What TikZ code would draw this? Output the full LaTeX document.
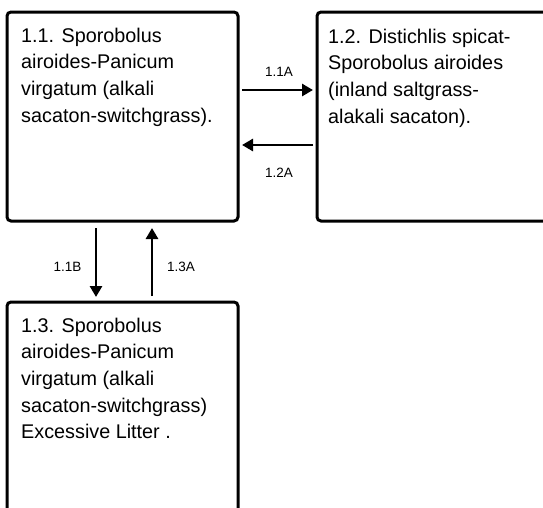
\documentclass[tikz,border=0pt]{standalone}
\usepackage{fontspec}
\setmainfont{Liberation Sans}
\usetikzlibrary{arrows.meta}
\begin{document}
\begin{tikzpicture}[x=1pt,y=-1pt,
  box/.style={draw, line width=3pt, rounded corners=4pt, minimum width=231pt,
    inner sep=0pt, outer sep=0pt, anchor=north west},
  txt/.style={anchor=base west, inner sep=0pt,
    font=\fontsize{19.8}{26.7}\selectfont},
  lbl/.style={anchor=base, inner sep=0pt, font=\fontsize{13.5}{15}\selectfont},
  arr/.style={line width=2.8pt, -{Triangle[length=11pt,width=12pt]}}]
\useasboundingbox (0,0) rectangle (543,507);
\clip (0,0) rectangle (543,507);
\node[box, minimum height=209pt] (b11) at (7,12) {};
\node[box, minimum height=209pt] (b12) at (317,12) {};
\node[box, minimum height=230pt] (b13) at (7,302) {};
\node[txt] (t11) at (21,42) {\vtop{\hbox{1.1. Sporobolus}\hbox{airoides-Panicum}\hbox{virgatum (alkali}\hbox{sacaton-switchgrass).}}};
\node[txt] (t12) at (328,43) {\vtop{\hbox{1.2. Distichlis spicat-}\hbox{Sporobolus airoides}\hbox{(inland saltgrass-}\hbox{alakali sacaton).}}};
\node[txt] (t13) at (21,332) {\vtop{\hbox{1.3. Sporobolus}\hbox{airoides-Panicum}\hbox{virgatum (alkali}\hbox{sacaton-switchgrass)}\hbox{Excessive Litter .}}};
\node[lbl] (l11a) at (279,76) {1.1A};
\node[lbl] (l12a) at (279,177) {1.2A};
\node[lbl] (l11b) at (67.5,271) {1.1B};
\node[lbl] (l13a) at (181,271) {1.3A};
\draw[arr] ([xshift=4pt,yshift=-78pt]b11.north east) -- ([xshift=-4pt,yshift=-78pt]b12.north west);
\draw[arr] ([xshift=-4pt,yshift=-133pt]b12.north west) -- ([xshift=4pt,yshift=-133pt]b11.north east);
\draw[arr] ([xshift=89pt,yshift=-7pt]b11.south west) -- ([xshift=89pt,yshift=5pt]b13.north west);
\draw[arr] ([xshift=145pt,yshift=6pt]b13.north west) -- ([xshift=145pt,yshift=-7pt]b11.south west);
\end{tikzpicture}
\end{document}
